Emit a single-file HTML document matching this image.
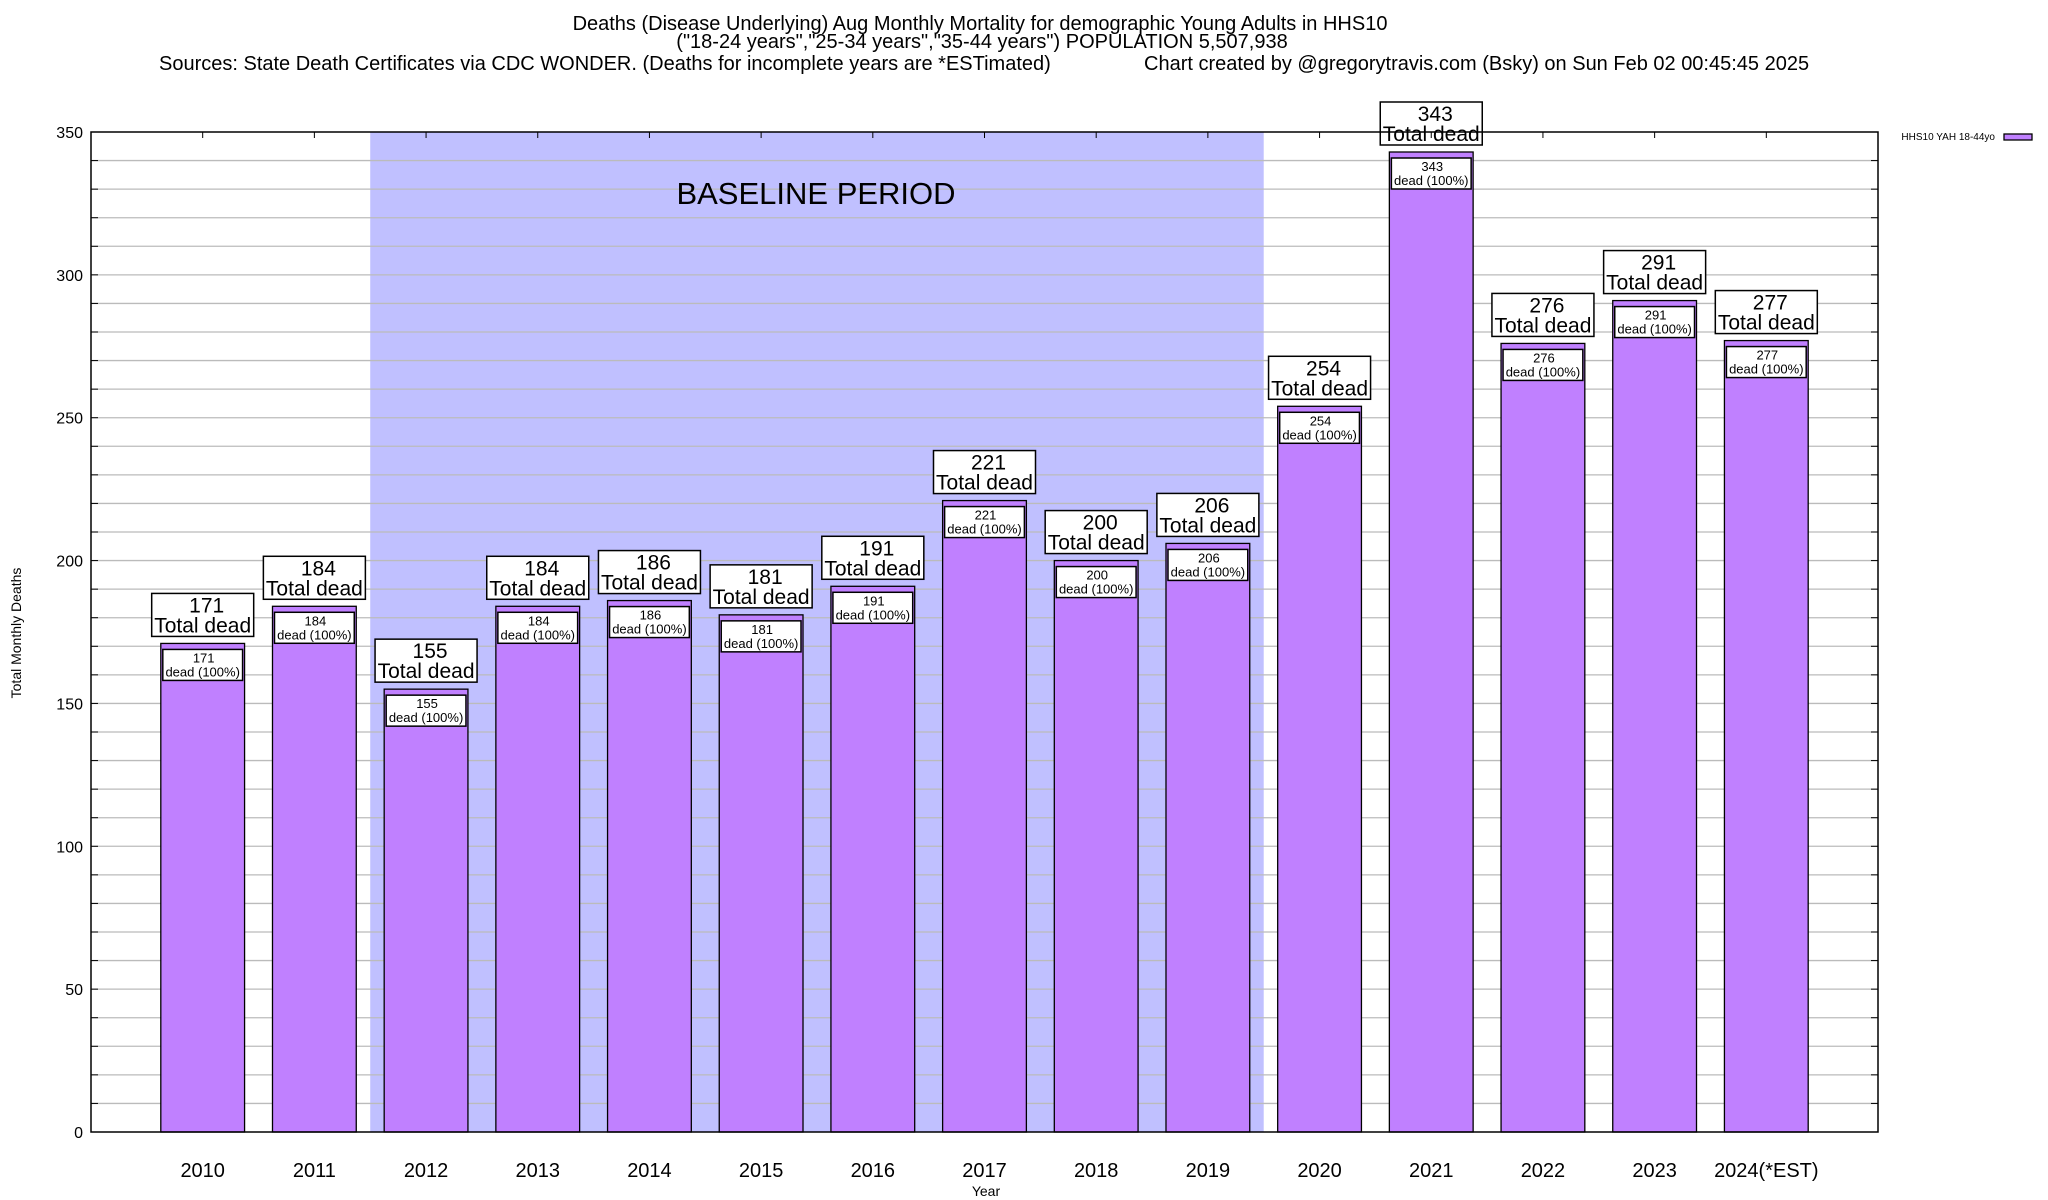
<!DOCTYPE html>
<html><head><meta charset="utf-8"><style>
html,body{margin:0;padding:0;background:#fff;}
svg{display:block;font-family:"Liberation Sans",sans-serif;}
</style></head><body>
<svg id="chart" width="2048" height="1200" viewBox="0 0 2048 1200" xmlns="http://www.w3.org/2000/svg">
<g font-size="20" fill="#000">
<text x="980" y="30" text-anchor="middle">Deaths (Disease Underlying) Aug Monthly Mortality for demographic Young Adults in HHS10</text>
<text x="982" y="48" text-anchor="middle">("18-24 years","25-34 years","35-44 years") POPULATION 5,507,938</text>
<text x="159" y="70">Sources: State Death Certificates via CDC WONDER. (Deaths for incomplete years are *ESTimated)</text>
<text x="1144" y="70">Chart created by @gregorytravis.com (Bsky) on Sun Feb 02 00:45:45 2025</text>
</g>
<g id="plot"></g>
</svg>
<script>
const categories = ["2010","2011","2012","2013","2014","2015","2016","2017","2018","2019","2020","2021","2022","2023","2024(*EST)"];
const deaths = [171,184,155,184,186,181,191,221,200,206,254,343,276,291,277];
const yTicks = [0,50,100,150,200,250,300,350];
const baselineStart = 2; // index of 2012
const baselineEnd = 9;   // index of 2019

const NS = "http://www.w3.org/2000/svg";
const L = 91, R = 1878, T = 132, B = 1132;
const yMax = 350;
const slot = (R - L) / (categories.length + 1);
const xc = i => L + (i + 1) * slot;
const y = v => B - v / yMax * (B - T);
const g = document.getElementById('plot');
function mk(tag, attrs, parent) {
  const e = document.createElementNS(NS, tag);
  for (const k in attrs) e.setAttribute(k, attrs[k]);
  (parent || g).appendChild(e);
  return e;
}

const sh = mk('rect', {x: xc(baselineStart) - slot/2, y: T, width: (baselineEnd - baselineStart + 1) * slot, height: B - T, fill: '#c0c0ff'});



for (let v = 10; v < yMax; v += 10) {
  const gl = mk('line', {x1: L, x2: R, y1: y(v), y2: y(v), stroke: '#bbbbbb', 'stroke-width': 1.3});
  
  
  mk('line', {x1: L, x2: L + 7, y1: y(v), y2: y(v), stroke: '#000', 'stroke-width': 1});
  mk('line', {x1: R, x2: R - 7, y1: y(v), y2: y(v), stroke: '#000', 'stroke-width': 1});
}

const bl = mk('text', {x: 816, y: 204, 'font-size': 31, 'text-anchor': 'middle', fill: '#000'});
bl.textContent = 'BASELINE PERIOD';



yTicks.forEach(v => {
  const t = mk('text', {x: 83, y: y(v) + 6, 'font-size': 16, 'text-anchor': 'end', fill: '#000'});
  t.textContent = v;
  
  
});

const bw = slot * 0.75;
categories.forEach((c, i) => {
  const v = deaths[i];
  const cx = xc(i);
  const top = y(v);
  const bar = mk('rect', {x: cx - bw/2, y: top, width: bw, height: B - top, fill: '#c080ff', stroke: '#000', 'stroke-width': 1.3});
  
  
  const ib = mk('rect', {x: cx - bw/2 + 2, y: top + 6, width: bw - 4, height: 31, fill: '#fff', stroke: '#000', 'stroke-width': 1.5});
  
  
  const it1 = mk('text', {x: cx + 1, y: top + 19, 'font-size': 13, 'text-anchor': 'middle', fill: '#000'});
  it1.textContent = v;
  
  
  const it2 = mk('text', {x: cx, y: top + 33, 'font-size': 13, 'text-anchor': 'middle', fill: '#000'});
  it2.textContent = 'dead (100%)';
  
  
  const ob = mk('rect', {x: cx - 51, y: top - 50, width: 102, height: 43, fill: '#fff', stroke: '#000', 'stroke-width': 1.5});
  
  
  const ot1 = mk('text', {x: cx + 4, y: top - 31, 'font-size': 21, 'text-anchor': 'middle', fill: '#000'});
  ot1.textContent = v;
  
  
  const ot2 = mk('text', {x: cx, y: top - 11, 'font-size': 21, 'text-anchor': 'middle', fill: '#000'});
  ot2.textContent = 'Total dead';
  
  
  mk('line', {x1: cx, x2: cx, y1: T, y2: T + 6, stroke: '#000', 'stroke-width': 1});
  const xl = mk('text', {x: cx, y: 1177, 'font-size': 20, 'text-anchor': 'middle', fill: '#000'});
  xl.textContent = c;
  
  
});

const frame = mk('rect', {x: L, y: T, width: R - L, height: B - T, fill: 'none', stroke: '#000', 'stroke-width': 1.5});



const xt = mk('text', {x: 986, y: 1196, 'font-size': 14, 'text-anchor': 'middle', fill: '#000'});
xt.textContent = 'Year';


const yt = mk('text', {x: 0, y: 0, 'font-size': 14, 'text-anchor': 'middle', fill: '#000', transform: 'translate(21,633) rotate(-90)'});
yt.textContent = 'Total Monthly Deaths';



const lg = mk('text', {x: 1995, y: 140, 'font-size': 10, 'text-anchor': 'end', fill: '#000'});
lg.textContent = 'HHS10 YAH 18-44yo';


const ls = mk('rect', {x: 2004, y: 134, width: 28, height: 6, fill: '#c080ff', stroke: '#000', 'stroke-width': 1.3});


</script>
</body></html>
